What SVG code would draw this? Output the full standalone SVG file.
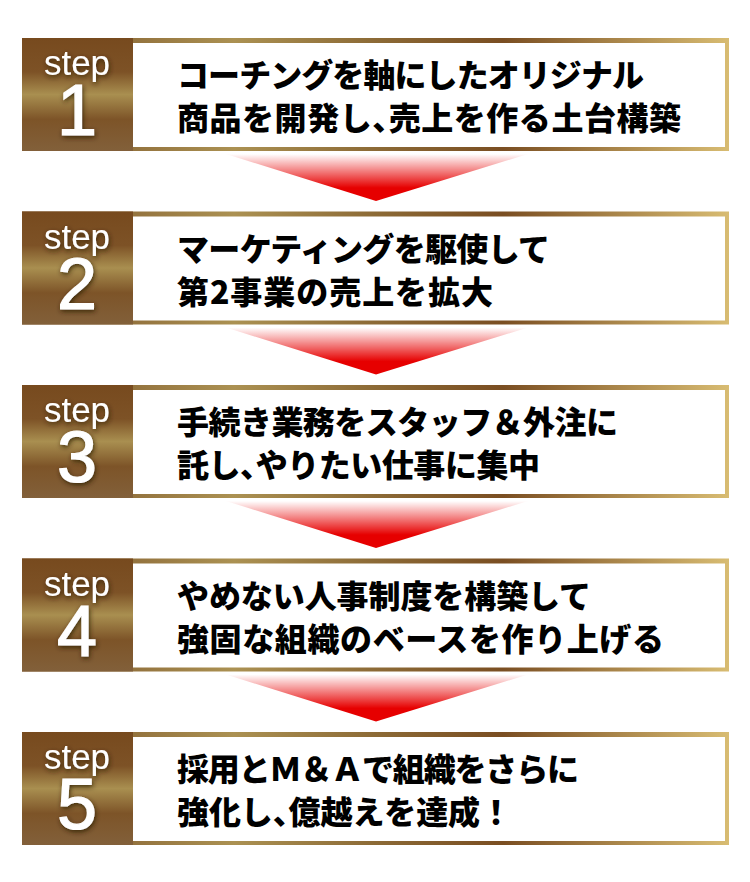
<svg xmlns="http://www.w3.org/2000/svg" width="750" height="882" viewBox="0 0 750 882">
<defs>
<linearGradient id="frameG" x1="22" y1="0" x2="729" y2="0" gradientUnits="userSpaceOnUse">
<stop offset="0" stop-color="#7a5228"/>
<stop offset="0.3" stop-color="#ab9152"/>
<stop offset="0.5" stop-color="#8c6a36"/>
<stop offset="0.68" stop-color="#7a4e22"/>
<stop offset="1" stop-color="#d8bc72"/>
</linearGradient>
<linearGradient id="tabG" x1="0" y1="0" x2="0" y2="1">
<stop offset="0" stop-color="#774a1e"/>
<stop offset="0.3" stop-color="#7d5226"/>
<stop offset="0.5" stop-color="#a98f50"/>
<stop offset="0.72" stop-color="#7d5428"/>
<stop offset="1" stop-color="#82603a"/>
</linearGradient>
<linearGradient id="arrowG" x1="0" y1="0" x2="0" y2="1">
<stop offset="0" stop-color="#e60000" stop-opacity="0"/>
<stop offset="0.72" stop-color="#e60000" stop-opacity="1"/>
<stop offset="1" stop-color="#e60000"/>
</linearGradient>
<filter id="sh" x="-30%" y="-30%" width="160%" height="160%">
<feDropShadow dx="1" dy="2" stdDeviation="2.5" flood-color="#2e1a05" flood-opacity="0.85"/>
</filter>
<g id="box">
<rect x="22" y="0" width="707" height="113" fill="url(#frameG)"/>
<rect x="22" y="0" width="111" height="113" fill="url(#tabG)"/>
<rect x="133" y="5" width="592" height="104" fill="#ffffff"/>
</g>
</defs>
<style>
.stp{font-family:"Liberation Sans",Arial,sans-serif;fill:#fff;text-anchor:middle;filter:url(#sh)}
.w{font-size:35px}
.n{font-size:72px;stroke:#fff;stroke-width:1.2px}
.jp{font-family:"Noto Sans CJK JP","Noto Sans",sans-serif;font-weight:900;font-size:32px;fill:#000}
.h{font-feature-settings:"halt"}
.arr{fill:url(#arrowG)}
</style>
<g id="connectors">
<polygon class="arr" points="226,154 528,154 376,201"/>
<polygon class="arr" points="226,327.5 528,327.5 376,374.5"/>
<polygon class="arr" points="226,501 528,501 376,548"/>
<polygon class="arr" points="226,674.5 528,674.5 376,721.5"/>
</g>
<g id="step1" transform="translate(0,38)">
<use href="#box"/>
<text class="stp w" x="77" y="37">step</text>
<text class="stp n" x="77" y="97">1</text>
<text class="jp" x="177" y="49" textLength="467" lengthAdjust="spacing">コーチングを軸にしたオリジナル</text>
<text class="jp" x="177" y="92" textLength="504" lengthAdjust="spacing">商品を開発し<tspan class="h">、</tspan>売上を作る土台構築</text>
</g>
<g id="step2" transform="translate(0,211.5)">
<use href="#box"/>
<text class="stp w" x="77" y="37">step</text>
<text class="stp n" x="77" y="97">2</text>
<text class="jp" x="177" y="49" textLength="373" lengthAdjust="spacing">マーケティングを駆使して</text>
<text class="jp" x="177" y="92" textLength="316" lengthAdjust="spacing">第2事業の売上を拡大</text>
</g>
<g id="step3" transform="translate(0,385)">
<use href="#box"/>
<text class="stp w" x="77" y="37">step</text>
<text class="stp n" x="77" y="97">3</text>
<text class="jp" x="177" y="49" textLength="441" lengthAdjust="spacing">手続き業務をスタッフ＆外注に</text>
<text class="jp" x="177" y="92" textLength="363" lengthAdjust="spacing">託し<tspan class="h">、</tspan>やりたい仕事に集中</text>
</g>
<g id="step4" transform="translate(0,558.5)">
<use href="#box"/>
<text class="stp w" x="77" y="37">step</text>
<text class="stp n" x="77" y="97">4</text>
<text class="jp" x="177" y="49" textLength="414" lengthAdjust="spacing">やめない人事制度を構築して</text>
<text class="jp" x="177" y="92" textLength="487" lengthAdjust="spacing">強固な組織のベースを作り上げる</text>
</g>
<g id="step5" transform="translate(0,732)">
<use href="#box"/>
<text class="stp w" x="77" y="37">step</text>
<text class="stp n" x="77" y="97">5</text>
<text class="jp" x="177" y="49" textLength="402" lengthAdjust="spacing">採用とＭ＆Ａで組織をさらに</text>
<text class="jp" x="177" y="92" textLength="335" lengthAdjust="spacing">強化し<tspan class="h">、</tspan>億越えを達成！</text>
</g>
</svg>
